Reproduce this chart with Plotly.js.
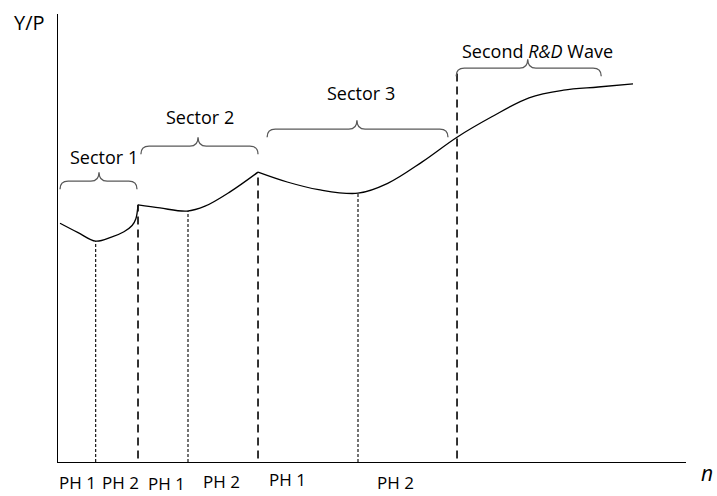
<!DOCTYPE html>
<html>
<head>
<meta charset="utf-8">
<script src="https://cdn.plot.ly/plotly-3.0.1.min.js"></script>
<style>html,body{margin:0;padding:0;background:#fff;}#chart{width:717px;height:496px;}</style>
</head>
<body>
<div id="chart"></div>
<script>
// ---- data (conceptual units: n on x 0..100, Y/P on y 0..100) ----
// curve, one piece per sector (kinks at sector boundaries)
const sector1X = [0.32, 3.2, 6.0, 8.5, 10.5, 11.8, 12.4, 12.74];
const sector1Y = [53.3, 51.2, 49.3, 50.2, 51.4, 52.8, 54.3, 57.4];
const sector2X = [12.74, 16.24, 20.54, 23.41, 27.39, 31.85];
const sector2Y = [57.4, 56.7, 56.0, 57.1, 60.3, 64.7];
const sector3X = [31.85, 36.5, 41.5, 47.77, 52.5, 58.0, 63.54, 69.0, 75.0, 80.5, 86.0, 91.56];
const sector3Y = [64.7, 62.5, 60.8, 60.0, 62.2, 67.0, 72.5, 77.0, 81.3, 83.0, 83.7, 84.4];

// dashed sector boundaries and dotted phase splits
const sectorEdgeX = [12.74, 31.85, 63.54];
const sectorEdgeTop = [57.4, 64.7, 86.8];
const phaseSplitX = [6.0, 20.7, 47.77];
const phaseSplitTop = [49.3, 56.0, 60.0];

// braces and their labels
const braceLabels = ["Sector 1", "Sector 2", "Sector 3", "Second <i>R&D</i> Wave"];
const braceStart = [0.32, 13.2, 33.3, 63.4];
const braceEnd = [12.58, 31.85, 62.1, 86.5];
const braceTip = [6.53, 22.3, 47.6, 74.8];
const braceLevel = [62.7, 70.5, 74.3, 87.9];
const labelX = [7.32, 22.6, 48.2, 76.4];
const labelY = [68.1, 77.0, 82.4, 91.7];

// phase labels under the axis
const phLabels = ["PH 1", "PH 2", "PH 1", "PH 2", "PH 1", "PH 2"];
const phX = [3.18, 10.03, 17.2, 26.1, 36.6, 53.7];
const phY = [-0.045, -0.045, -0.047, -0.043, -0.04, -0.045];

// ---- build ----
const FONT = "Open Sans, DejaVu Sans, sans-serif";
const traces = [];
[[sector1X, sector1Y], [sector2X, sector2Y], [sector3X, sector3Y]].forEach(([xs, ys]) => {
  traces.push({x: xs, y: ys, mode: "lines", line: {color: "#000", width: 1.3, shape: "spline", smoothing: 1},
    hoverinfo: "skip", showlegend: false});
});
sectorEdgeX.forEach((x, i) => {
  traces.push({x: [x, x], y: [0.8, sectorEdgeTop[i]], mode: "lines",
    line: {color: "#111", width: 1.7, dash: "8px,5px"}, hoverinfo: "skip", showlegend: false});
});
phaseSplitX.forEach((x, i) => {
  traces.push({x: [x, x], y: [0, phaseSplitTop[i]], mode: "lines",
    line: {color: "#000", width: 1.1, dash: "3px,2px"}, hoverinfo: "skip", showlegend: false});
});

const shapes = [];
const r = 1.3, drop = 1.8, rise = 2.0;
braceLabels.forEach((_, i) => {
  const x0 = braceStart[i], x1 = braceEnd[i], xm = braceTip[i], y = braceLevel[i];
  const p = `M ${x0},${y - drop} Q ${x0},${y} ${x0 + r},${y} L ${xm - r},${y} Q ${xm},${y} ${xm},${y + rise} ` +
            `Q ${xm},${y} ${xm + r},${y} L ${x1 - r},${y} Q ${x1},${y} ${x1},${y - drop}`;
  shapes.push({type: "path", xref: "x", yref: "y", path: p, line: {color: "#595959", width: 1.3}});
});

const annotations = [];
braceLabels.forEach((t, i) => {
  annotations.push({x: labelX[i], y: labelY[i], xref: "x", yref: "y", text: t, showarrow: false,
    xanchor: "center", yanchor: "middle", font: {family: FONT, size: 18, color: "#000"}});
});
phLabels.forEach((t, i) => {
  annotations.push({x: phX[i], y: phY[i], xref: "x", yref: "paper", text: t, showarrow: false,
    xanchor: "center", yanchor: "middle", font: {family: FONT, size: 17, color: "#000"}});
});
annotations.push({x: -0.046, y: 0.982, xref: "paper", yref: "paper", text: "Y/P", showarrow: false,
  xanchor: "center", yanchor: "middle", font: {family: FONT, size: 20, color: "#000"}});
annotations.push({x: 1.033, y: -0.025, xref: "paper", yref: "paper", text: "<i>n</i>", showarrow: false,
  xanchor: "center", yanchor: "middle", font: {family: FONT, size: 21, color: "#000"}});

const layout = {
  width: 717, height: 496,
  margin: {l: 58, r: 31, t: 14, b: 34},
  paper_bgcolor: "#fff", plot_bgcolor: "#fff",
  xaxis: {range: [0, 100], showline: true, linecolor: "#000", linewidth: 1.3, showgrid: false,
    zeroline: false, showticklabels: false, ticks: ""},
  yaxis: {range: [0, 100], showline: true, linecolor: "#000", linewidth: 1.3, showgrid: false,
    zeroline: false, showticklabels: false, ticks: ""},
  shapes: shapes,
  annotations: annotations,
  showlegend: false
};
Plotly.newPlot("chart", traces, layout, {staticPlot: true, displayModeBar: false});
</script>
</body>
</html>
